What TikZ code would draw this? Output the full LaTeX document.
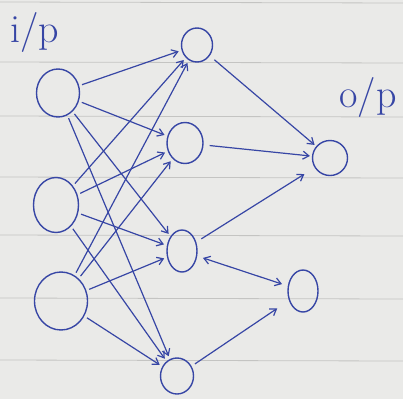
\documentclass[tikz,border=0pt]{standalone}
\usetikzlibrary{shapes.geometric,arrows.meta}
\definecolor{paper}{RGB}{234,234,232}
\definecolor{rule}{RGB}{196,196,194}
\definecolor{pen}{RGB}{55,70,165}
\begin{document}
\begin{tikzpicture}[x=1pt,y=-1pt,
  neuron/.style={ellipse,draw=pen,line width=1.4pt,inner sep=0pt},
  link/.style={draw=pen,line width=1.2pt,-{Straight Barb[length=6pt,width=8pt]}},
  both/.style={draw=pen,line width=1.2pt,{Straight Barb[length=6pt,width=8pt]}-{Straight Barb[length=6pt,width=8pt]}},
  lbl/.style={text=pen,font=\fontsize{40}{40}\selectfont,inner sep=0pt},
  ruleline/.style={draw=rule,line width=0.8pt}]
\fill[paper] (0,0) rectangle (403,399);
\useasboundingbox (0,0) rectangle (403,399);
% ruled paper
\foreach \yy in {2,62,116,177,235,298,360}
  \draw[ruleline] (0,\yy) -- (403,\yy+1);
% labels
\node[lbl] (ip) at (35,32) {i/p};
\node[lbl] (op) at (368,97) {o/p};
% input layer
\node[neuron,minimum width=43pt,minimum height=48pt] (i1) at (58,93) {};
\node[neuron,minimum width=45pt,minimum height=55pt] (i2) at (56,205) {};
\node[neuron,minimum width=53pt,minimum height=58pt] (i3) at (61,301) {};
% hidden layer
\node[neuron,minimum width=31pt,minimum height=34pt] (h1) at (197,45) {};
\node[neuron,minimum width=36pt,minimum height=41pt] (h2) at (185,143) {};
\node[neuron,minimum width=30pt,minimum height=42pt] (h3) at (182,251) {};
\node[neuron,minimum width=33pt,minimum height=36pt] (h4) at (177,376) {};
% output layer
\node[neuron,minimum width=35pt,minimum height=35pt] (o1) at (330,158) {};
\node[neuron,minimum width=30pt,minimum height=42pt] (o2) at (303,291) {};
% input -> hidden
\foreach \a in {i1,i2,i3}
  \foreach \b in {h1,h2,h3,h4}
    \draw[link,shorten <=3pt,shorten >=3pt] (\a) -- (\b);
% hidden -> output
\draw[link,shorten <=6pt,shorten >=2pt] (h1) -- (o1);
\draw[link,shorten <=6pt,shorten >=2pt] (h2) -- (o1);
\draw[link,shorten <=6pt,shorten >=12pt] (h3) -- (o1);
\draw[both,shorten <=6pt,shorten >=6pt] (h3) -- (o2);
\draw[link,shorten <=4pt,shorten >=14pt] (h4) -- (o2);
\end{tikzpicture}
\end{document}
